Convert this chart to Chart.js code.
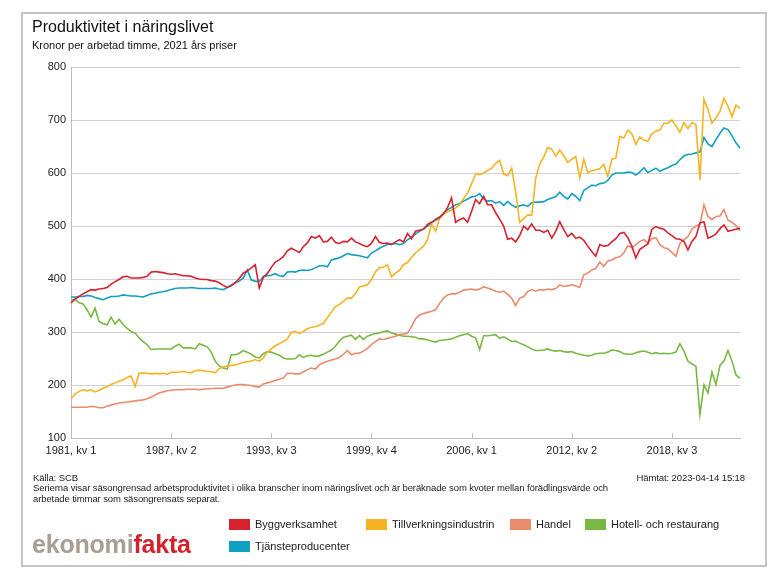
<!DOCTYPE html>
<html>
<head>
<meta charset="utf-8">
<script src="https://cdn.jsdelivr.net/npm/chart.js@4.4.0/dist/chart.umd.min.js"></script>
<style>
  body { margin: 0; width: 768px; height: 570px; background: #fff; position: relative; overflow: hidden;
         font-family: Arial, "Liberation Sans", sans-serif; color: #111; }
  #frame { position: absolute; left: 21px; top: 12px; width: 742px; height: 551px; border: 2px solid #c4c4c4; }
  #chart { position: absolute; left: 0; top: 0; }
  .txt { position: absolute; white-space: nowrap; }
  #title { left: 32px; top: 19px; font-size: 16px; line-height: 16px; }
  #subtitle { left: 32px; top: 40px; font-size: 11px; line-height: 11px; }
  .foot { font-size: 9.5px; line-height: 10px; letter-spacing: -0.1px; color: #222; }
  .leg { position: absolute; font-size: 11px; line-height: 11px; color: #222; white-space: nowrap; }
  .leg i { display: inline-block; width: 21px; height: 11px; vertical-align: top; margin-right: 5px; }
  #logo { left: 32px; top: 532px; font-size: 25px; font-weight: bold; line-height: 25px; letter-spacing: -0.2px; }
  #logo .g { color: #a99e93; }
  #logo .r { color: #d3222b; }
</style>
</head>
<body>
<div id="frame"></div>
<canvas id="chart" width="768" height="570"></canvas>
<div class="txt" id="title">Produktivitet i näringslivet</div>
<div class="txt" id="subtitle">Kronor per arbetad timme, 2021 års priser</div>
<div class="txt foot" style="left:33px; top:473px;">Källa: SCB</div>
<div class="txt foot" style="right:23px; top:473px;">Hämtat: 2023-04-14 15:18</div>
<div class="txt foot" style="left:33px; top:483px;">Serierna visar säsongrensad arbetsproduktivitet i olika branscher inom näringslivet och är beräknade som kvoter mellan förädlingsvärde och</div>
<div class="txt foot" style="left:33px; top:494px;">arbetade timmar som säsongrensats separat.</div>
<div id="legend"></div>
<div class="txt" id="logo"><span class="g">ekonomi</span><span class="r">fakta</span></div>

<script>
// kvartal 1981 kv 1 .. 2022 kv 4
var quarters = [];
for (var y = 1981; y <= 2022; y++) {
    for (var q = 1; q <= 4; q++) quarters.push(y + ", kv " + q);
}

var byggverksamhet = [
    355, 362, 367, 372, 376, 380, 379, 381, 382, 384, 390, 395, 399, 404, 405, 402, 402, 402, 403, 405, 413, 414, 413, 412, 410, 409, 410, 408,
    406, 406, 405, 402, 400, 399, 399, 397, 396, 393, 388, 384, 387, 393, 401, 411, 415, 421, 427, 383, 403, 410, 422, 432, 436, 442, 453,
    458, 454, 450, 461, 468, 480, 477, 482, 470, 471, 479, 469, 467, 471, 470, 477, 470, 467, 463, 461, 467, 480, 469, 467, 468, 465, 470, 474,
    470, 486, 476, 490, 492, 494, 503, 507, 511, 516, 523, 535, 553, 507, 512, 515, 507, 528, 550, 542, 556, 540, 540, 525, 513, 500, 475,
    477, 470, 482, 500, 493, 504, 492, 492, 488, 492, 477, 490, 508, 493, 480, 486, 477, 479, 473, 462, 452, 443, 465, 462, 463, 470, 476, 486,
    488, 478, 462, 440, 456, 461, 466, 494, 499, 496, 494, 487, 482, 476, 475, 471, 455, 471, 480, 506, 508, 477, 480, 485, 495, 502, 490, 492, 494, 496
];
var tillverkning = [
    174, 183, 188, 191, 189, 191, 187, 190, 194, 197, 201, 204, 207, 210, 214, 217, 197, 222, 223, 222, 221, 222, 221, 222, 220, 224, 224, 224,
    226, 224, 223, 227, 228, 227, 226, 225, 223, 231, 234, 236, 237, 238, 240, 243, 244, 245, 248, 245, 251, 262, 268, 274, 278, 282, 287,
    299, 301, 297, 301, 306, 309, 310, 313, 316, 327, 338, 348, 352, 358, 364, 364, 372, 385, 387, 389, 399, 414, 421, 422, 427, 404, 411, 416,
    427, 431, 441, 449, 456, 462, 474, 504, 490, 514, 523, 527, 530, 534, 540, 552, 562, 580, 598, 597, 600, 605, 609, 618, 624, 598, 595,
    609, 565, 507, 514, 521, 520, 590, 617, 630, 648, 645, 632, 643, 633, 620, 626, 631, 591, 626, 601, 604, 606, 608, 616, 594, 626, 628, 669,
    666, 681, 674, 654, 668, 662, 660, 674, 679, 681, 694, 694, 700, 689, 677, 695, 684, 695, 692, 587, 739, 720, 694, 704, 716, 741, 726, 706, 728, 722
];
var handel = [
    158, 158, 158, 158, 158, 160, 159, 157, 157, 160, 162, 164, 166, 167, 168, 169, 170, 171, 172, 174, 177, 181, 185, 187, 189, 190, 191, 191,
    191, 192, 192, 192, 191, 192, 193, 193, 194, 194, 194, 196, 198, 200, 201, 201, 200, 199, 197, 196, 202, 204, 206, 209, 211, 213, 222,
    222, 221, 221, 225, 229, 232, 230, 238, 242, 245, 247, 249, 252, 258, 265, 257, 260, 260, 264, 269, 276, 282, 287, 286, 288, 290, 292, 295,
    296, 298, 310, 325, 332, 335, 337, 339, 342, 354, 364, 370, 372, 372, 375, 379, 380, 381, 379, 381, 385, 383, 380, 377, 375, 377, 371,
    364, 350, 364, 367, 376, 380, 377, 380, 379, 381, 380, 382, 389, 386, 387, 389, 387, 384, 408, 411, 417, 420, 432, 424, 434, 436, 440, 442,
    449, 463, 459, 465, 471, 474, 468, 476, 478, 465, 459, 457, 450, 443, 467, 474, 480, 494, 500, 503, 540, 518, 512, 518, 519, 531, 511, 507, 501, 491
];
var hotellRestaurang = [
    360, 362, 355, 353, 342, 328, 345, 320, 316, 313, 328, 315, 324, 314, 307, 301, 298, 289, 282, 276, 267, 268, 268, 268, 268, 268, 273, 277,
    270, 270, 270, 268, 278, 275, 272, 262, 245, 236, 232, 230, 257, 257, 260, 265, 262, 258, 253, 251, 259, 263, 262, 259, 256, 251, 249,
    249, 250, 257, 252, 255, 256, 254, 255, 258, 262, 266, 273, 283, 290, 292, 294, 286, 293, 286, 292, 295, 297, 298, 301, 302, 298, 296, 294,
    292, 292, 291, 290, 287, 287, 285, 283, 281, 284, 285, 286, 287, 290, 293, 295, 297, 292, 289, 267, 293, 293, 294, 295, 288, 291, 287,
    282, 283, 279, 276, 272, 268, 265, 265, 266, 268, 265, 264, 265, 263, 262, 263, 260, 258, 256, 255, 256, 259, 260, 260, 262, 266, 265, 263,
    259, 258, 258, 261, 263, 264, 262, 259, 261, 259, 260, 259, 260, 262, 278, 264, 245, 240, 235, 144, 200, 185, 224, 201, 237, 245, 265, 245, 219, 213
];
var tjansteproducenter = [
    366, 366, 367, 367, 369, 368, 365, 363, 361, 364, 367, 367, 368, 370, 369, 368, 368, 367, 366, 369, 372, 373, 375, 376, 378, 380, 382, 383,
    383, 383, 384, 383, 382, 382, 382, 382, 383, 381, 380, 384, 389, 393, 396, 402, 417, 398, 396, 395, 405, 406, 407, 410, 406, 405, 413,
    414, 413, 416, 417, 416, 418, 421, 425, 425, 423, 436, 438, 440, 444, 448, 446, 445, 444, 442, 440, 449, 453, 458, 462, 465, 466, 467, 465,
    467, 474, 479, 485, 490, 495, 500, 506, 513, 517, 524, 531, 535, 540, 542, 547, 551, 555, 556, 561, 551, 547, 548, 543, 546, 539, 546,
    540, 535, 538, 540, 537, 544, 545, 545, 546, 550, 553, 555, 564, 556, 551, 561, 556, 548, 567, 572, 577, 576, 580, 581, 586, 596, 600, 600,
    600, 602, 601, 596, 602, 610, 601, 605, 609, 603, 607, 610, 614, 617, 625, 632, 635, 636, 638, 640, 667, 655, 650, 663, 675, 685, 682, 670, 657, 647
];

var seriesNames = ["Byggverksamhet", "Tillverkningsindustrin", "Handel", "Hotell- och restaurang", "Tjänsteproducenter"];
var seriesData = [byggverksamhet, tillverkning, handel, hotellRestaurang, tjansteproducenter];
var seriesColors = ["#d7212f", "#f6b322", "#ea8b6c", "#79b843", "#11a0c2"];
var yTicks = [100, 200, 300, 400, 500, 600, 700, 800];
var labelEvery = 25;

// förklaring i två rader
var legendPos = [[229, 519], [366, 519], [510, 519], [585, 519], [229, 541]];
var legend = document.getElementById("legend");
seriesNames.forEach(function (name, i) {
    var d = document.createElement("div");
    d.className = "leg";
    d.style.left = legendPos[i][0] + "px";
    d.style.top = legendPos[i][1] + "px";
    d.innerHTML = '<i style="background:' + seriesColors[i] + '"></i>' + name;
    legend.appendChild(d);
});

// små streck inne i diagrammet vid x-etiketterna
var innerTicks = {
    id: "innerTicks",
    beforeDatasetsDraw: function (chart) {
        var ctx = chart.ctx, area = chart.chartArea, xs = chart.scales.x;
        ctx.save();
        ctx.strokeStyle = "#bdbdbd";
        ctx.lineWidth = 1;
        for (var i = labelEvery; i < quarters.length; i += labelEvery) {
            var px = Math.round(xs.getPixelForValue(i)) + 0.5;
            ctx.beginPath();
            ctx.moveTo(px, area.bottom);
            ctx.lineTo(px, area.bottom - 5);
            ctx.stroke();
        }
        ctx.restore();
    }
};

var canvas = document.getElementById("chart").getContext("2d");

new Chart(canvas, {
    type: "line",
    data: {
        labels: quarters,
        datasets: seriesNames.map(function (name, i) {
            return {
                label: name,
                data: seriesData[i],
                borderColor: seriesColors[i],
                backgroundColor: seriesColors[i],
                borderWidth: 1.6,
                pointRadius: 0,
                tension: 0,
                fill: false
            };
        })
    },
    options: {
        responsive: false,
        animation: false,
        devicePixelRatio: 1,
        layout: { padding: { left: 26, right: 28, top: 67, bottom: 107 } },
        plugins: { legend: { display: false }, tooltip: { enabled: false } },
        scales: {
            x: {
                type: "category",
                offset: false,
                grid: { display: false, drawTicks: false },
                border: { display: true, color: "#bdbdbd", width: 1 },
                ticks: {
                    autoSkip: false,
                    maxRotation: 0,
                    minRotation: 0,
                    padding: 6,
                    color: "#222",
                    font: { family: "Arial, 'Liberation Sans', sans-serif", size: 11 },
                    callback: function (v, i) {
                        return i % labelEvery === 0 ? quarters[i] : null;
                    }
                },
                afterFit: function (s) { s.height = 25; }
            },
            y: {
                min: 100,
                max: 800,
                afterBuildTicks: function (s) {
                    s.ticks = yTicks.map(function (v) { return { value: v }; });
                },
                grid: { color: "#d0d0d0", lineWidth: 1, drawTicks: false },
                border: { display: true, color: "#bdbdbd", width: 1 },
                ticks: {
                    padding: 5,
                    color: "#222",
                    font: { family: "Arial, 'Liberation Sans', sans-serif", size: 11 }
                },
                afterFit: function (s) { s.width = 45; }
            }
        }
    },
    plugins: [innerTicks]
});
</script>
</body>
</html>
